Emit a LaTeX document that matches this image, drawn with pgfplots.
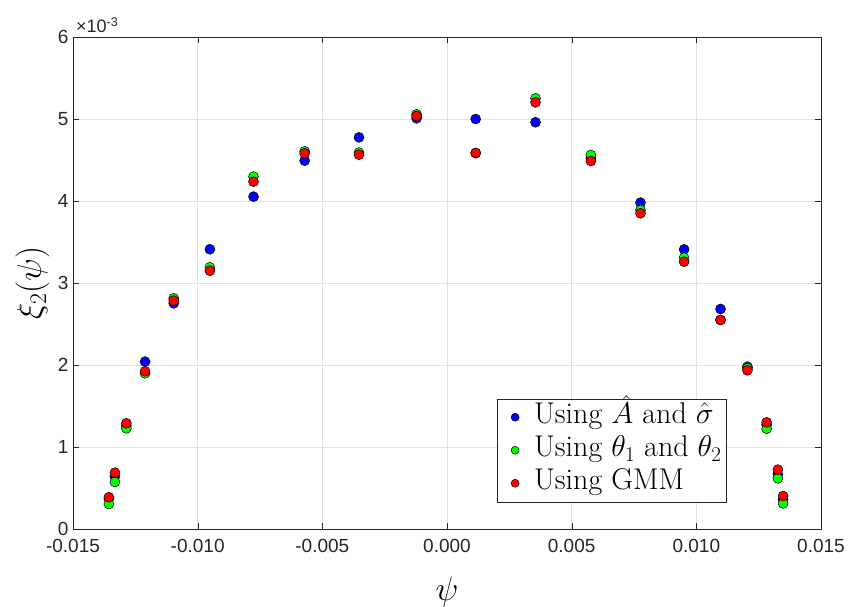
\RequirePackage{fix-cm}
\documentclass[border=0pt]{standalone}
\usepackage{pgfplots}
\pgfplotsset{compat=1.18}
\usepackage[no-math]{fontspec}
\setmainfont{Liberation Sans}
\newfontfamily\lmr{Latin Modern Roman}
\definecolor{axgray}{RGB}{38,38,38}
\definecolor{gridgray}{RGB}{225,225,225}
\pgfplotstableread{
x y
-0.01356 0.37
-0.01332 0.64
-0.01286 1.26
-0.01211 2.041
-0.01096 2.752
-0.00951 3.411
-0.00776 4.053
-0.00571 4.492
-0.00353 4.776
-0.00122 5.008
0.00115 5.000
0.00355 4.960
0.00577 4.52
0.00776 3.980
0.00951 3.410
0.01097 2.683
0.01205 1.979
0.01282 1.27
0.01327 0.667
0.01348 0.36
}\tblA
\pgfplotstableread{
x y
-0.01356 0.305
-0.01332 0.573
-0.01286 1.228
-0.01211 1.898
-0.01096 2.813
-0.00951 3.191
-0.00776 4.297
-0.00571 4.606
-0.00353 4.590
-0.00122 5.057
0.00115 4.585
0.00355 5.252
0.00577 4.561
0.00776 3.890
0.00951 3.309
0.01097 2.55
0.01205 1.960
0.01282 1.224
0.01327 0.618
0.01348 0.313
}\tblB
\pgfplotstableread{
x y
-0.01356 0.387
-0.01332 0.687
-0.01286 1.289
-0.01211 1.923
-0.01096 2.785
-0.00951 3.150
-0.00776 4.236
-0.00571 4.581
-0.00353 4.565
-0.00122 5.037
0.00115 4.585
0.00355 5.203
0.00577 4.488
0.00776 3.850
0.00951 3.260
0.01097 2.549
0.01205 1.935
0.01282 1.301
0.01327 0.724
0.01348 0.402
}\tblC
\begin{document}
\begin{tikzpicture}
\path[use as bounding box] (-73pt,-78pt) rectangle (779pt,529pt);
\begin{axis}[
  scale only axis,
  width=748pt, height=492pt,
  clip=false,
  xmin=-0.015, xmax=0.015, ymin=0, ymax=6,
  xtick={-0.015,-0.01,-0.005,0,0.005,0.01,0.015},
  ytick={0,1,2,3,4,5,6},
  scaled x ticks=false,
  xticklabel style={yshift=-7pt, /pgf/number format/.cd, fixed, fixed zerofill, precision=3, assume math mode=true},
  yticklabel style={xshift=-1pt, /pgf/number format/assume math mode=true},
  tick label style={font=\fontsize{19}{21}\selectfont, text=axgray},
  axis line style={axgray},
  tick style={axgray},
  tick align=inside,
  major tick length=6pt,
  grid=major,
  grid style={gridgray, line width=0.6pt},
  xlabel={$\psi$},
  ylabel={$\xi_2(\psi)$},
  label style={font=\fontsize{34}{40}\selectfont},
  xlabel style={at={(axis description cs:0.5,0)}, anchor=north, yshift=-44pt},
  ylabel style={at={(axis description cs:0,0.5)}, anchor=south, yshift=20pt},
  legend style={at={(0.874,0.055)}, anchor=south east, draw=axgray, font=\lmr\fontsize{30}{34}\selectfont, row sep=0pt, column sep=0pt, inner xsep=2pt, inner ysep=2pt, cells={anchor=west},
    nodes={inner xsep=3pt, inner ysep=2pt, text height=21pt, text depth=8pt}},
  legend image code/.code={\path[draw=none, fill=none] (0pt,0pt) -- (32pt,0pt); \draw[#1, mark size=4pt] plot coordinates {(16pt,0pt)};},
  legend cell align=left,
]
\addplot[only marks, mark=*, mark size=5pt, mark options={fill=blue, draw=black, line width=0.5pt}] table {\tblA};
\addlegendentry{Using $\hat{A}$ and $\hat{\sigma}$}
\addplot[only marks, mark=*, mark size=5pt, mark options={fill=green, draw=black, line width=0.5pt}] table {\tblB};
\addlegendentry{Using $\theta_1$ and $\theta_2$}
\addplot[only marks, mark=*, mark size=5pt, mark options={fill=red, draw=black, line width=0.5pt}] table {\tblC};
\addlegendentry{Using GMM}
\node[anchor=base west, font=\fontsize{18}{20}\selectfont, text=axgray, inner sep=0pt] at (rel axis cs:0,1) [xshift=3pt, yshift=4pt] {\char"D7 10\textsuperscript{-3}};
\end{axis}
\end{tikzpicture}
\end{document}
